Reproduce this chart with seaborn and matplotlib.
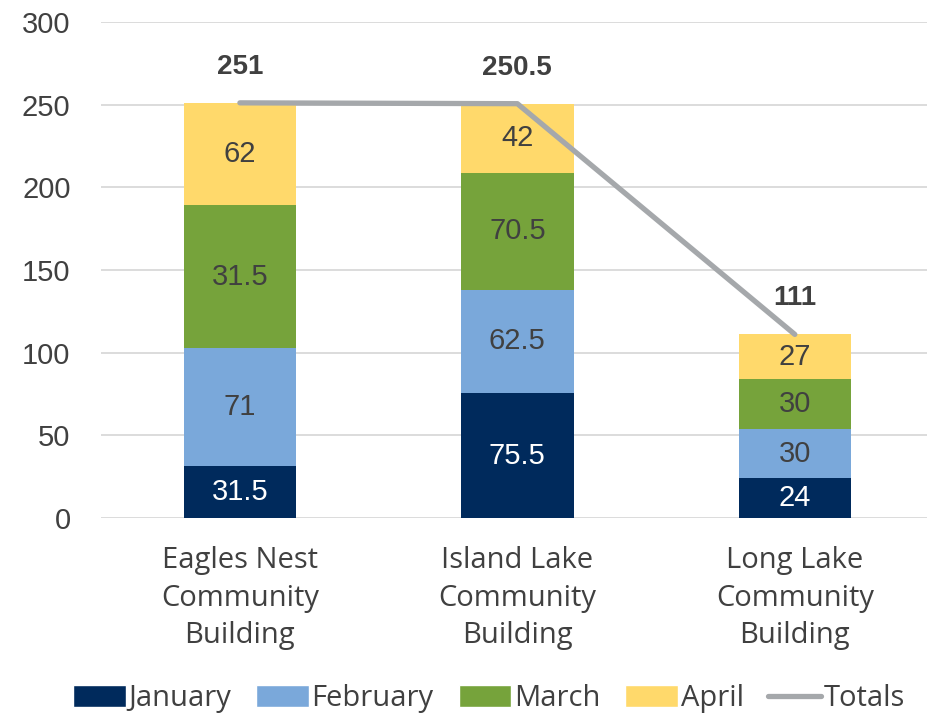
import numpy as np
import pandas as pd
import matplotlib
matplotlib.use("Agg")
import matplotlib.pyplot as plt
import seaborn as sns
from matplotlib.patches import Patch
from matplotlib.lines import Line2D

# data
sites = ["Eagles Nest\nCommunity\nBuilding", "Island Lake\nCommunity\nBuilding", "Long Lake\nCommunity\nBuilding"]
january = [31.5, 75.5, 24]
february = [71, 62.5, 30]
march = [86.5, 70.5, 30]
april = [62, 42, 27]
# segment labels as printed on the chart (March label on first bar differs from its height)
january_labels = ["31.5", "75.5", "24"]
february_labels = ["71", "62.5", "30"]
march_labels = ["31.5", "70.5", "30"]
april_labels = ["62", "42", "27"]
totals = [251, 250.5, 111]
totals_labels = ["251", "250.5", "111"]

months = ["January", "February", "March", "April"]
colors = ["#002A5C", "#7AA8DA", "#76A33B", "#FFD96B"]
line_color = "#A5A8AB"
text_color = "#404040"
num_font = ["Liberation Sans", "DejaVu Sans"]

sns.set_theme(style="white")
plt.rcParams["font.family"] = ["Open Sans", "DejaVu Sans"]

series = [january, february, march, april]
labels = [january_labels, february_labels, march_labels, april_labels]
cum = np.cumsum(np.array(series), axis=0)

fig = plt.figure(figsize=(9.28, 7.15), dpi=100)
ax = fig.add_axes([0.109, 0.2755, 0.897, 0.694])

# stacked bars drawn back to front from cumulative heights
for i in range(3, -1, -1):
    d = pd.DataFrame({"site": sites, "value": cum[i]})
    sns.barplot(data=d, x="site", y="value", color=colors[i], width=0.405,
                saturation=1, linewidth=0, ax=ax, zorder=2)

# segment labels
for i in range(4):
    for j in range(3):
        bottom = cum[i - 1][j] if i > 0 else 0
        mid = bottom + series[i][j] / 2
        c = "white" if i == 0 else text_color
        ax.text(j, mid, labels[i][j], ha="center", va="center", fontsize=21,
                family=num_font, color=c, zorder=4)

# totals line
ax.plot(range(3), totals, color=line_color, lw=3.8, solid_capstyle="round", zorder=3)
for j in range(3):
    ax.annotate(totals_labels[j], (j, totals[j]), xytext=(0, 26), textcoords="offset points",
                ha="center", va="center", fontsize=20, fontweight="bold",
                family=num_font, color=text_color)

ax.set_xlim(-0.5, 2.5)
ax.set_ylim(0, 300)
ax.set_yticks(range(0, 301, 50))
ax.yaxis.grid(True, color="#D9D9D9", lw=1.3, zorder=0)
ax.set_axisbelow(True)
for s in ax.spines.values():
    s.set_visible(False)
ax.set_xlabel("")
ax.set_ylabel("")
ax.tick_params(axis="both", length=0, labelcolor=text_color)
ax.tick_params(axis="y", pad=22, labelsize=21)
ax.tick_params(axis="x", pad=20, labelsize=21)
for t in ax.get_yticklabels():
    t.set_family(num_font)
for t in ax.get_xticklabels():
    t.set_linespacing(1.4)

handles = [Patch(facecolor=colors[i], label=months[i]) for i in range(4)]
handles.append(Line2D([0], [0], color=line_color, lw=3.8, label="Totals"))
fig.legend(handles=handles, loc="lower center", bbox_to_anchor=(0.527, -0.034), ncol=5,
           frameon=False, fontsize=21, handlelength=1.8, handleheight=0.75,
           handletextpad=0.1, columnspacing=0.85, labelcolor=text_color)

fig.savefig("out.png", dpi=100)
